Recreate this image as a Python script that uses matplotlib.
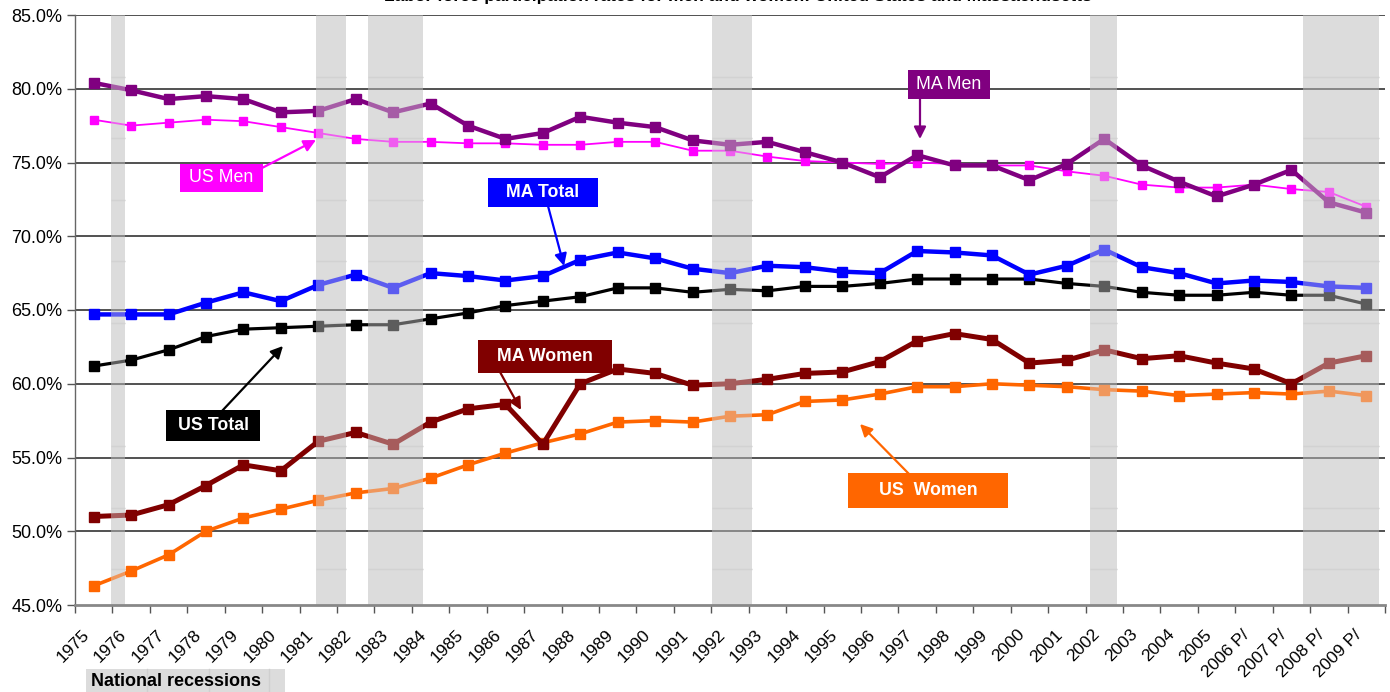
import matplotlib
matplotlib.use("Agg")
import matplotlib.pyplot as plt
from matplotlib.patches import Rectangle
from matplotlib.transforms import ScaledTranslation
import numpy as np

plt.rcParams['font.family'] = ['Liberation Sans', 'DejaVu Sans']

years = ["1975", "1976", "1977", "1978", "1979", "1980", "1981", "1982", "1983", "1984",
         "1985", "1986", "1987", "1988", "1989", "1990", "1991", "1992", "1993", "1994",
         "1995", "1996", "1997", "1998", "1999", "2000", "2001", "2002", "2003", "2004",
         "2005", "2006 P/", "2007 P/", "2008 P/", "2009 P/"]

ma_men = [80.4, 79.9, 79.3, 79.5, 79.3, 78.4, 78.5, 79.3, 78.4, 79.0,
          77.5, 76.6, 77.0, 78.1, 77.7, 77.4, 76.5, 76.2, 76.4, 75.7,
          75.0, 74.0, 75.5, 74.8, 74.8, 73.8, 74.9, 76.6, 74.8, 73.7,
          72.7, 73.5, 74.5, 72.3, 71.6]
us_men = [77.9, 77.5, 77.7, 77.9, 77.8, 77.4, 77.0, 76.6, 76.4, 76.4,
          76.3, 76.3, 76.2, 76.2, 76.4, 76.4, 75.8, 75.8, 75.4, 75.1,
          75.0, 74.9, 75.0, 74.9, 74.8, 74.8, 74.4, 74.1, 73.5, 73.3,
          73.3, 73.5, 73.2, 73.0, 72.0]
ma_total = [64.7, 64.7, 64.7, 65.5, 66.2, 65.6, 66.7, 67.4, 66.5, 67.5,
            67.3, 67.0, 67.3, 68.4, 68.9, 68.5, 67.8, 67.5, 68.0, 67.9,
            67.6, 67.5, 69.0, 68.9, 68.7, 67.4, 68.0, 69.1, 67.9, 67.5,
            66.8, 67.0, 66.9, 66.6, 66.5]
us_total = [61.2, 61.6, 62.3, 63.2, 63.7, 63.8, 63.9, 64.0, 64.0, 64.4,
            64.8, 65.3, 65.6, 65.9, 66.5, 66.5, 66.2, 66.4, 66.3, 66.6,
            66.6, 66.8, 67.1, 67.1, 67.1, 67.1, 66.8, 66.6, 66.2, 66.0,
            66.0, 66.2, 66.0, 66.0, 65.4]
ma_women = [51.0, 51.1, 51.8, 53.1, 54.5, 54.1, 56.1, 56.7, 55.9, 57.4,
            58.3, 58.6, 55.9, 60.0, 61.0, 60.7, 59.9, 60.0, 60.3, 60.7,
            60.8, 61.5, 62.9, 63.4, 63.0, 61.4, 61.6, 62.3, 61.7, 61.9,
            61.4, 61.0, 60.0, 61.4, 61.9]
us_women = [46.3, 47.3, 48.4, 50.0, 50.9, 51.5, 52.1, 52.6, 52.9, 53.6,
            54.5, 55.3, 56.0, 56.6, 57.4, 57.5, 57.4, 57.8, 57.9, 58.8,
            58.9, 59.3, 59.8, 59.8, 60.0, 59.9, 59.8, 59.6, 59.5, 59.2,
            59.3, 59.4, 59.3, 59.5, 59.2]

# recession bands, in category-index units
recessions = [(0.46, 0.83), (5.93, 6.75), (7.34, 8.81), (16.51, 17.60),
              (26.62, 27.34), (32.30, 34.35)]

W, H = 1390, 692
fig = plt.figure(figsize=(W / 100, H / 100), dpi=100)
ax = fig.add_axes([75 / W, (H - 605) / H, (1385 - 75) / W, (605 - 15) / H])

x = np.arange(len(years))
band_col = '#dcdcdc'
band_grid = 47.44 + 4.17 * np.arange(9)
for a, b in recessions:
    ax.axvspan(a, b, color=band_col, lw=0, zorder=0.5)
    ax.hlines(band_grid, a, b, color='#cbcbcb', lw=1, zorder=0.6)
    ax.axvspan(a, b, color=band_col, lw=0, alpha=0.42, zorder=5)

for yv in np.arange(50, 86, 5):
    ax.axhline(yv, color='#222222', lw=1.1, zorder=1)

series = [
    (us_women, '#FF6600', 2.6, 6.5),
    (ma_women, '#800000', 3.6, 7.5),
    (us_total, '#000000', 2.3, 7.0),
    (ma_total, '#0000FF', 3.2, 7.5),
    (us_men, '#FF00FF', 1.3, 5.5),
    (ma_men, '#800080', 3.2, 7.5),
]
for vals, col, lw, ms in series:
    ax.plot(x, vals, color=col, lw=lw, marker='s', ms=ms, mec=col, mfc=col, zorder=3)

ax.set_xlim(-0.5, len(years) - 0.5)
ax.set_ylim(45, 85)
ax.set_yticks(np.arange(45, 86, 5))
ax.set_yticklabels([f"{v:.1f}%" for v in np.arange(45, 86, 5)], fontsize=13)
ax.set_xticks(x)
ax.set_xticklabels(years, rotation=45, ha='right', va='center',
                   rotation_mode='anchor', fontsize=12.5)
ax.tick_params(axis='x', which='major', length=0, pad=19.5)
shift = ScaledTranslation(-7 / 100, 0, fig.dpi_scale_trans)
for lab in ax.get_xticklabels():
    lab.set_transform(lab.get_transform() + shift)
ax.set_xticks(np.arange(-0.5, len(years), 1), minor=True)
ax.tick_params(axis='x', which='minor', length=6, color='#555555', width=1)
ax.tick_params(axis='y', length=6, color='#555555', width=1, pad=3)

for s in ['top', 'right']:
    ax.spines[s].set_visible(False)
ax.spines['left'].set_color('#666666')
ax.spines['left'].set_linewidth(1)
ax.spines['bottom'].set_color('#888888')
ax.spines['bottom'].set_linewidth(2)
ax.spines['bottom'].set_zorder(6)


def px(xp, yp):
    return ax.transData.inverted().transform(
        fig.transFigure.transform((xp / W, 1 - yp / H)))


def label(text, x0, x1, y0, y1, col, weight='bold', fs=12.8):
    fig.patches.append(Rectangle((x0 / W, 1 - y1 / H), (x1 - x0) / W, (y1 - y0) / H,
                                 transform=fig.transFigure, fc=col, ec='none', zorder=10))
    fig.text((x0 + x1) / 2 / W, 1 - (y0 + y1) / 2 / H, text, color='white', fontsize=fs,
             fontweight=weight, ha='center', va='center', zorder=11)


def arrow(start, tip, col):
    sx, sy = px(*start)
    tx, ty = px(*tip)
    ax.annotate('', xy=(tx, ty), xytext=(sx, sy), zorder=9,
                arrowprops=dict(arrowstyle='-|>', color=col, lw=1.6,
                                mutation_scale=18, shrinkA=0, shrinkB=0))


arrow((920, 98), (920, 139), '#800080')
label('MA Men', 908, 990, 70, 99, '#800080', weight='normal')
arrow((262, 168), (316, 140), '#FF00FF')
label('US Men', 180, 263, 164, 192, '#FF00FF', weight='normal')
arrow((548, 206), (564, 266), '#0000FF')
label('MA Total', 488, 598, 178, 207, '#0000FF')
arrow((222, 411), (283, 346), '#000000')
label('US Total', 166, 260, 410, 441, '#000000')
arrow((500, 372), (521, 410), '#800000')
label('MA Women', 478, 612, 340, 373, '#800000')
arrow((910, 475), (860, 424), '#FF6600')
label('US  Women', 848, 1008, 473, 508, '#FF6600')

# "National recessions" legend cell
fig.patches.append(Rectangle((86 / W, 0), (285 - 86) / W, (H - 669) / H,
                             transform=fig.transFigure, fc='#dcdcdc', ec='none', zorder=1))
for xl in (147, 209, 269):
    fig.lines.append(plt.Line2D([xl / W, xl / W], [0, (H - 669) / H],
                                transform=fig.transFigure, color='#cfcfcf', lw=1, zorder=1.5))
fig.text(91 / W, 1 - 682 / H, 'National recessions', fontsize=13, fontweight='bold',
         ha='left', va='center', zorder=2)

fig.text(738 / W, 1 - 0.5 / H,
         'Labor force participation rates for men and women: United States and Massachusetts',
         fontsize=12.5, fontweight='bold', ha='center', va='baseline')

fig.savefig('out.png', dpi=100)
